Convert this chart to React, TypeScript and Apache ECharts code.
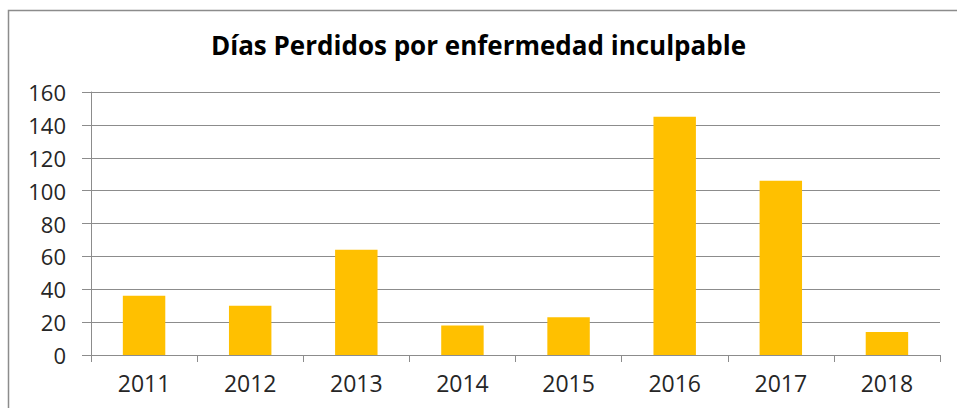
import React, { useEffect, useRef } from "react";
import * as echarts from "echarts";

const years = ["2011", "2012", "2013", "2014", "2015", "2016", "2017", "2018"];
const diasPerdidos = [36, 30, 64, 18, 23, 145, 106, 14];
const titleText = "Días Perdidos por enfermedad inculpable";

const FONT = "'Open Sans', 'Liberation Sans', sans-serif";

export default function App() {
  const ref = useRef<HTMLDivElement>(null);
  useEffect(() => {
    document.body.style.margin = "0";
    if (!ref.current) return;
    const chart = echarts.init(ref.current, null, { renderer: "svg" });
    chart.setOption({
      animation: false,
      backgroundColor: "#ffffff",
      title: {
        text: titleText,
        left: "center",
        top: 27,
        textStyle: {
          fontFamily: FONT,
          fontWeight: "bold",
          fontSize: 26,
          color: "#000000",
        },
      },
      graphic: [
        {
          type: "polyline",
          shape: { points: [[8.5, 420], [8.5, 10.5], [970, 10.5]] },
          style: { stroke: "#8c8c8c", lineWidth: 1.5, fill: "none" },
          silent: true,
        },
      ],
      grid: { left: 91, right: 17, top: 92, bottom: 53, containLabel: false },
      xAxis: {
        type: "category",
        data: years,
        boundaryGap: true,
        axisLine: { show: true, lineStyle: { color: "#8c8c8c", width: 1 } },
        axisTick: { show: true, alignWithLabel: false, length: 7, lineStyle: { color: "#8c8c8c" } },
        axisLabel: { fontFamily: FONT, fontSize: 23, color: "#262626", margin: 16 },
        splitLine: { show: false },
      },
      yAxis: {
        type: "value",
        min: 0,
        max: 160,
        interval: 20,
        axisLine: { show: true, lineStyle: { color: "#8c8c8c", width: 1 } },
        axisTick: { show: true, length: 9, lineStyle: { color: "#8c8c8c" } },
        axisLabel: { fontFamily: FONT, fontSize: 22, color: "#262626", margin: 25 },
        splitLine: { show: true, lineStyle: { color: "#8c8c8c", width: 1 } },
      },
      series: [
        {
          type: "bar",
          data: diasPerdidos,
          barWidth: "40%",
          itemStyle: { color: "#FFC000" },
        },
      ],
    });
    return () => chart.dispose();
  }, []);
  return (
    <div
      ref={ref}
      style={{ position: "absolute", left: 0, top: 0, width: 957, height: 408 }}
    />
  );
}
